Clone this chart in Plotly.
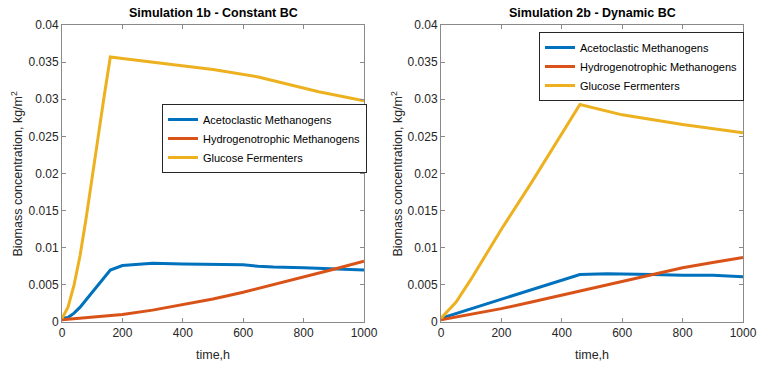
import plotly.graph_objects as go

# ---- data ----
series_names = ["Acetoclastic Methanogens", "Hydrogenotrophic Methanogens", "Glucose Fermenters"]

# Simulation 1b - Constant BC
t1_aceto = [0, 20, 40, 60, 80, 100, 120, 140, 160, 200, 250, 300, 400, 500, 550, 600, 650, 700, 800, 900, 1000]
y1_aceto = [0.0005, 0.0006, 0.0012, 0.002, 0.003, 0.004, 0.005, 0.006, 0.007, 0.0076, 0.0078, 0.0079, 0.0078, 0.0078, 0.0078, 0.0077, 0.0075, 0.0074, 0.0073, 0.0072, 0.0070]
t1_hydro = [0, 100, 200, 300, 400, 500, 600, 700, 800, 900, 1000]
y1_hydro = [0.0003, 0.0006, 0.001, 0.0016, 0.0023, 0.0031, 0.0040, 0.0050, 0.0061, 0.0071, 0.0082]
t1_gluc = [0, 10, 20, 40, 60, 80, 100, 120, 140, 160, 200, 300, 400, 500, 650, 750, 850, 1000]
y1_gluc = [0.0005, 0.0012, 0.002, 0.005, 0.009, 0.014, 0.0192, 0.025, 0.0305, 0.0357, 0.0355, 0.035, 0.0345, 0.034, 0.033, 0.032, 0.031, 0.0298]

# Simulation 2b - Dynamic BC
t2_aceto = [0, 100, 200, 300, 460, 550, 650, 700, 800, 900, 1000]
y2_aceto = [0.0005, 0.0018, 0.0031, 0.0044, 0.0064, 0.0065, 0.0065, 0.0064, 0.0063, 0.0063, 0.0061]
t2_hydro = [0, 100, 200, 300, 400, 460, 600, 700, 800, 900, 1000]
y2_hydro = [0.0003, 0.001, 0.0018, 0.0027, 0.0036, 0.0042, 0.0055, 0.0064, 0.0073, 0.008, 0.0087]
t2_gluc = [0, 50, 100, 200, 300, 400, 460, 600, 800, 1000]
y2_gluc = [0.0005, 0.0027, 0.0058, 0.0125, 0.0188, 0.0253, 0.0293, 0.0279, 0.0266, 0.0255]

titles = ["Simulation 1b - Constant BC", "Simulation 2b - Dynamic BC"]
x_ticks = [0, 200, 400, 600, 800, 1000]
y_ticks = [0, 0.005, 0.01, 0.015, 0.02, 0.025, 0.03, 0.035, 0.04]
y_tick_labels = ["0", "0.005", "0.01", "0.015", "0.02", "0.025", "0.03", "0.035", "0.04"]

colors = ["#0072BD", "#D95319", "#EDB120"]

fig = go.Figure()
panels = [
    [(t1_aceto, y1_aceto), (t1_hydro, y1_hydro), (t1_gluc, y1_gluc)],
    [(t2_aceto, y2_aceto), (t2_hydro, y2_hydro), (t2_gluc, y2_gluc)],
]
for p, data in enumerate(panels):
    xa = "x" if p == 0 else "x2"
    ya = "y" if p == 0 else "y2"
    lg = "legend" if p == 0 else "legend2"
    for i, (tx, vy) in enumerate(data):
        fig.add_trace(go.Scatter(x=tx, y=vy, mode="lines", name=series_names[i],
                                 line=dict(color=colors[i], width=3),
                                 xaxis=xa, yaxis=ya, legend=lg))

W, H = 765, 366
L, R, T, B = 62, 743, 25, 322
PW, PH = R - L, B - T


def px(x):
    return (x - L) / PW


def py(y):
    return (B - y) / PH


dom_x = [(0, px(364)), (px(441), 1)]

axis_common = dict(showgrid=False, zeroline=False, showline=True, mirror="ticks",
                   linecolor="#8a8a8a", linewidth=1, ticks="inside", ticklen=4,
                   tickcolor="#8a8a8a", automargin=False,
                   tickfont=dict(family="Liberation Sans, Arial", size=12, color="#262626"))

layout = dict(width=W, height=H, margin=dict(l=L, r=W - R, t=T, b=H - B),
              paper_bgcolor="white", plot_bgcolor="white", showlegend=True,
              font=dict(family="Liberation Sans, Arial", color="#262626"))
for p in range(2):
    sx = "" if p == 0 else "2"
    layout["xaxis" + sx] = dict(axis_common, domain=list(dom_x[p]), range=[0, 1000],
                                tickvals=x_ticks, anchor="y" + sx)
    layout["yaxis" + sx] = dict(axis_common, domain=[0, 1], range=[0, 0.04],
                                tickvals=y_ticks, ticktext=y_tick_labels, anchor="x" + sx)

leg_common = dict(bgcolor="white", bordercolor="#262626", borderwidth=1,
                  font=dict(family="Liberation Sans, Arial", size=11, color="#000000"),
                  xanchor="left", yanchor="top", tracegroupgap=0, itemwidth=30)
layout["legend"] = dict(leg_common, x=px(162), y=py(104))
layout["legend2"] = dict(leg_common, x=px(539), y=py(32))
fig.update_layout(**layout)

anns = []
for p in range(2):
    cx = (dom_x[p][0] + dom_x[p][1]) / 2
    anns.append(dict(text="<b>" + titles[p] + "</b>", x=cx, y=py(13), xref="paper", yref="paper",
                     showarrow=False, font=dict(size=12.5, color="#000000"), xanchor="center", yanchor="middle"))
    anns.append(dict(text="time,h", x=cx, y=py(355), xref="paper", yref="paper",
                     showarrow=False, font=dict(size=12.5, color="#262626"), xanchor="center", yanchor="middle"))
    anns.append(dict(text="Biomass concentration, kg/m<sup>2</sup>", x=px(16 if p == 0 else 396),
                     y=0.5, xref="paper", yref="paper", textangle=-90,
                     showarrow=False, font=dict(size=12.5, color="#262626"), xanchor="center", yanchor="middle"))
fig.update_layout(annotations=anns)

fig.write_html("out.html", config={"displayModeBar": False},
               post_script="document.body.style.margin='0';document.body.style.overflow='hidden';")
